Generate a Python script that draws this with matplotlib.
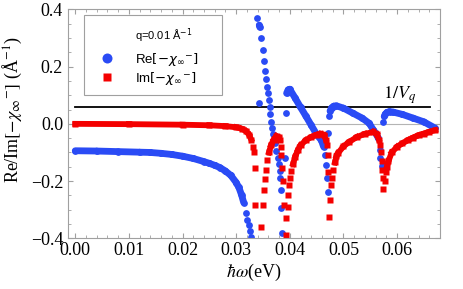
import numpy as np
import matplotlib
matplotlib.use("Agg")
import matplotlib.pyplot as plt
from matplotlib.collections import LineCollection
from matplotlib.lines import Line2D
from matplotlib.patches import Rectangle

nan = np.nan

# Re[-chi] (blue), branches separated by nan
re_x = [0.000, 0.004, 0.008, 0.012, 0.014, 0.016, 0.018, 0.020, 0.022, 0.024, 0.025, 0.026,
        0.027, 0.028, 0.029, 0.030, 0.0305, 0.031, 0.0314, 0.0318, 0.0321, 0.0323, 0.0325, 0.0327, nan,
        0.0339, 0.0342, 0.0343, 0.0344, 0.0347, 0.0350, 0.0352, 0.0354, 0.0356, 0.0358, 0.0360, 0.0361,
        0.0363, 0.0364, 0.0365, 0.0367, 0.0369, 0.0372, 0.0375, 0.0378, 0.0380, 0.0381, 0.0382, 0.0383,
        0.0384, 0.0386, nan,
        0.0391, 0.0392, 0.0394, 0.0397, 0.0400, 0.041, 0.042, 0.043, 0.044, 0.045, 0.0459, 0.0463,
        0.0466, 0.0468, 0.0470, 0.0471, nan,
        0.0472, 0.0473, 0.0475, 0.0478, 0.0482, 0.0487, 0.050, 0.0518, 0.0535, 0.0548, 0.0556, 0.0561,
        0.0565, 0.0568, 0.0569, 0.0571, nan,
        0.0574, 0.0576, 0.0578, 0.0581, 0.0586, 0.0593, 0.061, 0.063, 0.065, 0.0671]
re_y = [-0.094, -0.095, -0.097, -0.099, -0.100, -0.103, -0.107, -0.113, -0.121, -0.132, -0.138, -0.145,
        -0.153, -0.165, -0.180, -0.205, -0.222, -0.248, -0.275, -0.310, -0.335, -0.355, -0.375, -0.395, nan,
        0.370, 0.072, 0.345, 0.338, 0.300, 0.259, 0.218, 0.185, 0.156, 0.130, 0.107, 0.084,
        0.060, 0.035, 0.008, -0.015, -0.035, -0.066, -0.095, -0.118, -0.140, -0.165, -0.190, -0.230,
        -0.295, -0.382, nan,
        -0.120, 0.037, 0.107, 0.119, 0.121, 0.090, 0.058, 0.027, -0.005, -0.037, -0.058, -0.080,
        -0.110, -0.145, -0.190, -0.237, nan,
        -0.033, 0.026, 0.045, 0.056, 0.062, 0.063, 0.055, 0.037, 0.020, 0.002, -0.022, -0.035,
        -0.050, -0.090, -0.120, -0.149, nan,
        0.008, 0.026, 0.034, 0.040, 0.043, 0.041, 0.033, 0.020, 0.007, -0.015]

# Im[-chi] (red)
im_x = [0.000, 0.010, 0.020, 0.025, 0.028, 0.030, 0.031, 0.0318, 0.0324, 0.0328, 0.0331, 0.0333,
        0.0335, 0.0336, nan,
        0.0347, 0.0350, 0.0352, 0.0354, 0.0356, 0.0358, 0.0361, 0.0365, 0.0370, 0.0375, 0.0379, 0.0381,
        0.0383, 0.0384, 0.0386, 0.0388, 0.0390, 0.0392, 0.0393, nan,
        0.0396, 0.0397, 0.0399, 0.0401, 0.0403, 0.0406, 0.0410, 0.0415, 0.0420, 0.0430, 0.0440, 0.0450,
        0.0458, 0.0464, 0.0467, 0.0469, 0.0471, 0.0472, 0.0473, nan,
        0.0475, 0.0477, 0.0479, 0.0481, 0.0484, 0.0487, 0.0490, 0.0500, 0.0510, 0.0525, 0.0540, 0.0556,
        0.0562, 0.0566, 0.0568, 0.0570, 0.0571, 0.0572, 0.0573, 0.0574, nan,
        0.0577, 0.0579, 0.0581, 0.0584, 0.0590, 0.0600, 0.0610, 0.0620, 0.0630, 0.0640, 0.0650, 0.0660,
        0.0671]
im_y = [0.000, -0.001, -0.003, -0.005, -0.008, -0.012, -0.017, -0.025, -0.038, -0.055, -0.080, -0.100,
        -0.155, -0.283, nan,
        -0.361, -0.283, -0.231, -0.193, -0.160, -0.128, -0.100, -0.075, -0.055, -0.043, -0.047, -0.056,
        -0.080, -0.110, -0.155, -0.200, -0.283, -0.330, -0.390, nan,
        -0.290, -0.250, -0.215, -0.190, -0.165, -0.140, -0.115, -0.092, -0.075, -0.057, -0.046, -0.038,
        -0.035, -0.040, -0.055, -0.075, -0.110, -0.170, -0.324, nan,
        -0.266, -0.215, -0.190, -0.163, -0.135, -0.114, -0.102, -0.079, -0.064, -0.046, -0.035, -0.028,
        -0.036, -0.055, -0.075, -0.100, -0.130, -0.160, -0.190, -0.228, nan,
        -0.200, -0.170, -0.150, -0.130, -0.100, -0.080, -0.068, -0.057, -0.048, -0.040, -0.034, -0.028,
        -0.022]

inv_vq = 0.058
inv_vq_x = [0.0, 0.0662]

x_ticks = [0.00, 0.01, 0.02, 0.03, 0.04, 0.05, 0.06]
y_ticks = [-0.4, -0.2, 0.0, 0.2, 0.4]

blue = "#2a4bf5"
red = "#f40000"
gray = "#a0a0a0"

plt.rcParams["font.family"] = "serif"
plt.rcParams["font.serif"] = ["Liberation Serif"]
plt.rcParams["mathtext.fontset"] = "stix"


def draw_series(ax, x, y, color, lw, marker, ms, cap):
    x = np.asarray(x)
    y = np.asarray(y)
    segs = []
    for i in range(len(x) - 1):
        if np.isnan(x[i]) or np.isnan(x[i + 1]):
            continue
        # dense samples merge into a band, steep parts stay as dots
        if abs((y[i + 1] - y[i]) / (x[i + 1] - x[i])) < 75:
            segs.append([(x[i], y[i]), (x[i + 1], y[i + 1])])
    ax.add_collection(LineCollection(segs, colors=color, linewidths=lw, capstyle=cap))
    ax.plot(x, y, ls="none", marker=marker, ms=ms, mfc=color, mec="none")


fig = plt.figure(figsize=(4.63, 2.89), dpi=100)
ax = fig.add_axes([0.1475, 0.1754, 0.8028, 0.7921])

ax.axhline(0, color="#b4b4b4", lw=0.8, zorder=0)
ax.plot(inv_vq_x, [inv_vq, inv_vq], color="black", lw=1.3)
ax.text(0.0573, 0.087, r"$1/V_q$", fontsize=13, ha="left", va="baseline")

draw_series(ax, re_x, re_y, blue, 4.9, "o", 4.9, "round")
draw_series(ax, im_x, im_y, red, 4.2, "s", 4.0, "projecting")

ax.set_xlim(-0.0013, 0.0680)
ax.set_ylim(-0.4, 0.4)
ax.set_xticks(x_ticks)
ax.set_xticklabels(["%.2f" % v for v in x_ticks])
ax.set_yticks(y_ticks)
ax.set_yticklabels(["%.1f" % v if v >= 0 else "\u2212%.1f" % -v for v in y_ticks])
ax.set_xticks(np.arange(0, 0.0681, 0.002), minor=True)
ax.set_yticks(np.arange(-0.4, 0.401, 0.05), minor=True)
ax.tick_params(which="both", direction="in", top=True, right=True, color=gray, labelsize=13)
ax.tick_params(which="major", length=3.5, width=0.8)
ax.tick_params(which="minor", length=2, width=0.6)
ax.tick_params(axis="x", pad=2.5)
ax.tick_params(axis="y", pad=3.8)
for s in ax.spines.values():
    s.set_color(gray)
    s.set_linewidth(0.8)

ax.set_xlabel(r"$\hbar\omega$(eV)", fontsize=13)
ax.xaxis.set_label_coords(0.5, -0.105)
ax.set_ylabel(r"Re/Im$[-\chi_{\infty}{}^{-}]$ (Å$^{-1}$)", fontsize=13)
ax.yaxis.set_label_coords(-0.118, 0.56)

# legend box
ax.add_patch(Rectangle((0.042, 0.626), 0.3715, 0.35, transform=ax.transAxes,
                       facecolor="white", edgecolor=gray, lw=0.8, zorder=5))
ax.text(0.1794, 0.884, "q=0.01 Å$^{-1}$", transform=ax.transAxes, fontsize=8,
        family="Liberation Sans", math_fontfamily="dejavusans", va="center", ha="left", zorder=6)
handles = [Line2D([], [], ls="none", marker="o", ms=7.2, mfc=blue, mec="none"),
           Line2D([], [], ls="none", marker="s", ms=5.3, mfc=red, mec="none")]
labels = [r"Re$[-\chi_{\infty}{}^{-}]$", r"Im$[-\chi_{\infty}{}^{-}]$"]
leg = ax.legend(handles, labels, loc="upper left", bbox_to_anchor=(0.0864, 0.818),
                frameon=False, handlelength=1.0, handletextpad=1.62, labelspacing=0.15,
                borderaxespad=0, borderpad=0, prop={"family": "Liberation Sans", "size": 9.5})
leg.set_zorder(6)
for t in leg.get_texts():
    t.set_math_fontfamily("dejavusans")

fig.savefig("out.png", dpi=100)
